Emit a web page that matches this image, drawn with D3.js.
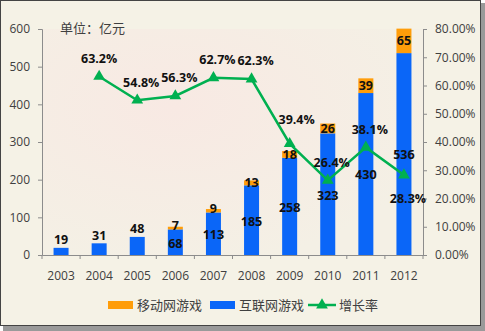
<!DOCTYPE html>
<html><head><meta charset="utf-8">
<script src="https://cdn.jsdelivr.net/npm/d3@7"></script>
<style>body{margin:0;background:#fff;}svg{display:block;}</style>
</head><body>
<svg id="c" width="485" height="331"></svg>
<script>
const years = ["2003","2004","2005","2006","2007","2008","2009","2010","2011","2012"];
const internetGames = [19,31,48,68,113,185,258,323,430,536];
const mobileGames = [0,0,0,7,9,13,18,26,39,65];
const growthYears = ["2004","2005","2006","2007","2008","2009","2010","2011","2012"];
const growthRate = [0.632,0.548,0.563,0.627,0.623,0.394,0.264,0.381,0.283];
const growthLabels = ["63.2%","54.8%","56.3%","62.7%","62.3%","39.4%","26.4%","38.1%","28.3%"];
const leftTicks = [0,100,200,300,400,500,600];
const rightTicks = [0,0.1,0.2,0.3,0.4,0.5,0.6,0.7,0.8];
const seriesNames = ["移动网游戏","互联网游戏","增长率"];
const unitText = "单位：亿元";

const svg = d3.select("#c");
const L=42,R=423,T=29,B=255;
const blue="#0a66f8", orange="#ff9d0a", green="#00b050";
const font="'Open Sans', 'Noto Sans CJK SC', sans-serif";
const cjk="'Noto Sans CJK SC', sans-serif";

const defs=svg.append("defs");
const rg=defs.append("radialGradient").attr("id","pg").attr("cx","0.35").attr("cy","0.35").attr("r","0.7");
rg.append("stop").attr("offset","0").attr("stop-color","#f8e9e3");
rg.append("stop").attr("offset","1").attr("stop-color","#f4f0e5");

// frame + shadow
svg.append("rect").attr("x",3).attr("y",3).attr("width",482).attr("height",328).attr("fill","#9a9a9a");
svg.append("rect").attr("x",0.5).attr("y",0.5).attr("width",480).attr("height",325).attr("fill","#f5f2e6").attr("stroke","#444").attr("stroke-width",1);
svg.append("rect").attr("x",L).attr("y",T).attr("width",R-L).attr("height",B-T).attr("fill","url(#pg)");

const x=d3.scaleBand().domain(years).range([L,R]);
const y=d3.scaleLinear().domain([0,600]).range([B,T]);
const y2=d3.scaleLinear().domain([0,0.8]).range([B,T]);
const bw=15;

// axes
const ax=svg.append("g").attr("transform",`translate(${L},0)`).call(d3.axisLeft(y).tickValues(leftTicks).tickSize(4).tickPadding(8));
const ax2=svg.append("g").attr("transform",`translate(${R},0)`).call(d3.axisRight(y2).tickValues(rightTicks).tickFormat(d3.format(".2%")).tickSize(4).tickPadding(8));
const ax3=svg.append("g").attr("transform",`translate(0,${B})`).call(d3.axisBottom(x).tickSize(0).tickPadding(16));
[ax,ax2,ax3].forEach(g=>{
  g.selectAll("path").attr("stroke","#8c8c8c");
  g.selectAll("line").attr("stroke","#8c8c8c");
  g.selectAll("text").attr("fill","#404040").style("font-family",font).style("font-size","12px");
});
// category boundary ticks on x axis
svg.append("g").selectAll("line").data(years.concat(["end"])).join("line")
  .attr("x1",(d,i)=>L+i*x.bandwidth()).attr("x2",(d,i)=>L+i*x.bandwidth())
  .attr("y1",B).attr("y2",B+4).attr("stroke","#8c8c8c");

// bars
svg.append("g").selectAll("rect").data(years).join("rect")
  .attr("x",d=>x(d)+(x.bandwidth()-bw)/2).attr("width",bw)
  .attr("y",(d,i)=>y(internetGames[i])).attr("height",(d,i)=>B-y(internetGames[i]))
  .attr("fill",blue);
svg.append("g").selectAll("rect").data(years).join("rect")
  .attr("x",d=>x(d)+(x.bandwidth()-bw)/2).attr("width",bw)
  .attr("y",(d,i)=>y(internetGames[i]+mobileGames[i])).attr("height",(d,i)=>y(internetGames[i])-y(internetGames[i]+mobileGames[i]))
  .attr("fill",orange);

const lab={"font-family":font,"font-size":"12.5px","font-weight":"bold","fill":"#111","text-anchor":"middle"};
function sty(s){Object.entries(lab).forEach(([k,v])=>s.style(k,v));return s;}

// blue labels
sty(svg.append("g").selectAll("text").data(years).join("text")
  .attr("x",d=>x(d)+x.bandwidth()/2)
  .attr("y",(d,i)=>internetGames[i]<60 ? y(internetGames[i])-8 : (y(internetGames[i])+B)/2+1)
  .attr("dy","0.35em")
  .text((d,i)=>internetGames[i]));
// orange labels
sty(svg.append("g").selectAll("text").data(years.filter((d,i)=>mobileGames[i]>0)).join("text")
  .attr("x",d=>x(d)+x.bandwidth()/2)
  .attr("y",d=>{const i=years.indexOf(d);return (y(internetGames[i])+y(internetGames[i]+mobileGames[i]))/2-(mobileGames[i]<10?2:0);})
  .attr("dy","0.35em")
  .text(d=>mobileGames[years.indexOf(d)]));

// line
const cx=d=>x(d)+x.bandwidth()/2;
svg.append("path").datum(growthYears)
  .attr("d",d3.line().x(d=>cx(d)).y((d,i)=>y2(growthRate[i])))
  .attr("fill","none").attr("stroke",green).attr("stroke-width",2.5);
const tri=d3.symbol().type(d3.symbolTriangle).size(60);
svg.append("g").selectAll("path").data(growthYears).join("path")
  .attr("transform",(d,i)=>`translate(${cx(d)},${y2(growthRate[i])})`)
  .attr("d",tri).attr("fill",green);
sty(svg.append("g").selectAll("text").data(growthYears).join("text")
  .attr("x",(d,i)=>cx(d)+(i===0?0:(i===5?7:4)))
  .attr("y",(d,i)=>i===growthYears.length-1 ? y2(growthRate[i])+24 : y2(growthRate[i])-(i===5?24:18))
  .attr("dy","0.35em")
  .text((d,i)=>growthLabels[i]));

// unit
svg.append("text").attr("x",60).attr("y",28).attr("dy","0.35em").text(unitText)
  .style("font-family",cjk).style("font-size","13px").attr("fill","#404040");

// legend
const lg=svg.append("g");
lg.append("rect").attr("x",108).attr("y",301).attr("width",25).attr("height",8).attr("fill",orange);
lg.append("text").attr("x",137).attr("y",305).attr("dy","0.35em").text(seriesNames[0]);
lg.append("rect").attr("x",210).attr("y",301).attr("width",25).attr("height",8).attr("fill",blue);
lg.append("text").attr("x",239).attr("y",305).attr("dy","0.35em").text(seriesNames[1]);
lg.append("line").attr("x1",308).attr("x2",336).attr("y1",305).attr("y2",305).attr("stroke",green).attr("stroke-width",2.5);
lg.append("path").attr("transform","translate(322,305)").attr("d",tri).attr("fill",green);
lg.append("text").attr("x",339).attr("y",305).attr("dy","0.35em").text(seriesNames[2]);
lg.selectAll("text").style("font-family",cjk).style("font-size","13px").attr("fill","#404040");
</script>
</body></html>
